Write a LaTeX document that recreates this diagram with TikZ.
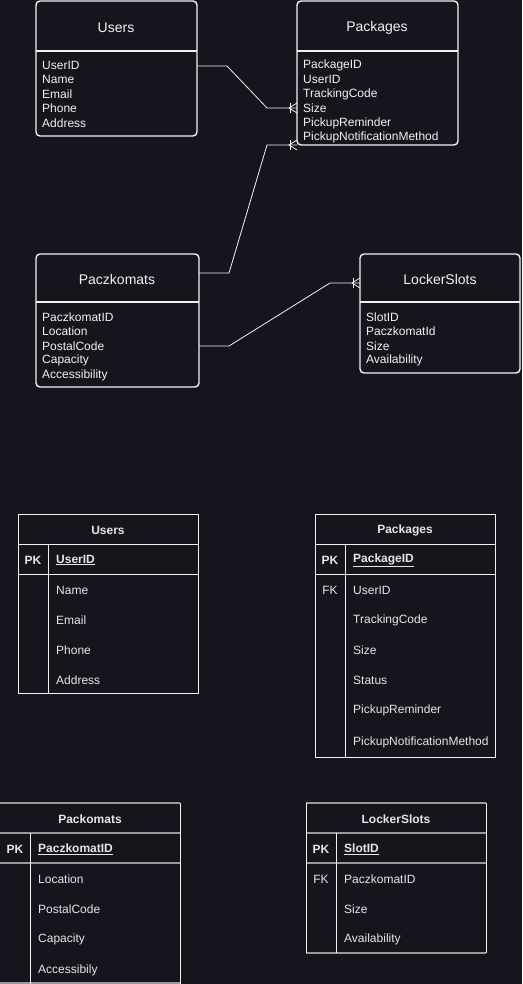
\documentclass[tikz,border=0pt]{standalone}
\usepackage{fontspec}
\setmainfont{Liberation Sans}
\usetikzlibrary{calc}
\definecolor{bg}{HTML}{18141D}
\definecolor{fg}{HTML}{F2F2F2}
\definecolor{tfg}{HTML}{E6E6E6}
\definecolor{gline}{HTML}{9A9A9A}
\tikzset{
  erbox/.style={draw=fg, line width=1.4pt, rounded corners=4pt, fill=bg, inner sep=0pt, outer sep=0pt, anchor=north west},
  ertitle/.style={text=fg, font=\fontsize{14}{16}\selectfont, inner sep=0pt, yshift=-1.5pt},
  erattr/.style={text=fg, font=\fontsize{12}{14}\selectfont, anchor=west, inner sep=0pt, yshift=-1pt},
  conn/.style={draw=fg, line width=0.8pt},
  tbox/.style={draw=fg, line width=1pt, fill=bg, inner sep=0pt, outer sep=0pt, anchor=north west},
  ttitle/.style={text=tfg, font=\bfseries\fontsize{12}{14}\selectfont, inner sep=0pt, yshift=-1pt},
  tkey/.style={text=tfg, font=\bfseries\fontsize{12}{14}\selectfont, inner sep=0pt, yshift=-1pt},
  tattr/.style={text=tfg, font=\fontsize{12}{14}\selectfont, anchor=west, inner sep=0pt, yshift=-1pt},
  tline/.style={draw=fg, line width=1pt},
  gtline/.style={draw=gline, line width=1.4pt},
}
\newcommand{\crowfoot}[1]{%
  \draw[conn] ($(#1)+(-7,-5)$) -- ($(#1)+(-7,5)$);
  \draw[conn] ($(#1)+(0,-5)$) -- ($(#1)+(-8,0)$) -- ($(#1)+(0,5)$);
}
\begin{document}
\begin{tikzpicture}[x=1pt,y=-1pt]
\fill[bg] (0,0) rectangle (522,984);
\useasboundingbox (0,0) rectangle (522,984);

% ---------- top ER boxes ----------
\node[erbox, minimum width=161pt, minimum height=135pt] (users) at (36,1) {};
\draw[erbox] (users.west |- 0,51) -- (users.east |- 0,51);
\node[ertitle] (usersT) at (116,26) {Users};
\foreach \t/\y [count=\i] in {UserID/64,Name/78,Email/93,Phone/107,Address/122}
  \node[erattr] (ua\i) at (42,\y) {\t};

\node[erbox, minimum width=161pt, minimum height=144pt] (packages) at (297,1) {};
\draw[erbox] (packages.west |- 0,51) -- (packages.east |- 0,51);
\node[ertitle] (packagesT) at (377,26) {Packages};
\foreach \t/\y [count=\i] in {PackageID/64,UserID/78,TrackingCode/93,Size/107,PickupReminder/122,PickupNotificationMethod/136}
  \node[erattr] (pa\i) at (303,\y) {\t};

\node[erbox, minimum width=163pt, minimum height=133pt] (paczkomats) at (36,254) {};
\draw[erbox] (paczkomats.west |- 0,302) -- (paczkomats.east |- 0,302);
\node[ertitle] (paczkomatsT) at (117,278) {Paczkomats};
\foreach \t/\y [count=\i] in {PaczkomatID/316,Location/330,PostalCode/345,Capacity/359,Accessibility/374}
  \node[erattr] (za\i) at (42,\y) {\t};

\node[erbox, minimum width=160pt, minimum height=119pt] (lockers) at (360,254) {};
\draw[erbox] (lockers.west |- 0,302) -- (lockers.east |- 0,302);
\node[ertitle] (lockersT) at (440,278) {LockerSlots};
\foreach \t/\y [count=\i] in {SlotID/316,PaczkomatId/330,Size/345,Availability/359}
  \node[erattr] (la\i) at (366,\y) {\t};

% ---------- connectors ----------
\coordinate (c1s) at (users.east |- 0,66);
\coordinate (c1e) at (packages.west |- 0,108);
\draw[conn] (c1s) -- ++(30,0) -- ($(c1e)+(-30,0)$) -- (c1e);
\crowfoot{c1e}

\coordinate (c2s) at (paczkomats.east |- 0,273);
\coordinate (c2e) at (packages.west |- 0,145);
\draw[conn] (c2s) -- ++(30,0) -- ($(c2e)+(-30,0)$) -- (c2e);
\crowfoot{c2e}

\coordinate (c3s) at (paczkomats.east |- 0,346);
\coordinate (c3e) at (lockers.west |- 0,283);
\draw[conn] (c3s) -- ++(30,0) -- ($(c3e)+(-30,0)$) -- (c3e);
\crowfoot{c3e}

% ---------- bottom tables ----------
% Users
\node[tbox, minimum width=180pt, minimum height=179pt] (tusers) at (18,514) {};
\draw[tline] (18,544) -- (198,544);
\draw[tline] (18,574) -- (198,574);
\draw[tline] (48,544) -- (48,693);
\node[ttitle] (tusersT) at (108,529) {Users};
\node[tkey] (tusersPK) at (33,559) {PK};
\node[tattr, font=\bfseries\fontsize{12}{14}\selectfont] (tusersK) at (56,559) {\underline{UserID}};
\foreach \t/\y [count=\i] in {Name/589,Email/619,Phone/649,Address/679}
  \node[tattr] (tu\i) at (56,\y) {\t};

% Packages
\node[tbox, minimum width=180pt, minimum height=243pt] (tpack) at (315,514) {};
\draw[tline] (315,544) -- (495,544);
\draw[tline] (315,574) -- (495,574);
\draw[tline] (345,544) -- (345,757);
\node[ttitle] (tpackT) at (405,529) {Packages};
\node[tkey] (tpackPK) at (330,559) {PK};
\node[tkey, font=\fontsize{12}{14}\selectfont] (tpackFK) at (330,589) {FK};
\node[tattr, font=\bfseries\fontsize{12}{14}\selectfont] (tpackK) at (353,559) {\underline{PackageID}};
\foreach \t/\y [count=\i] in {UserID/589,TrackingCode/619,Size/649,Status/679,PickupReminder/709,PickupNotificationMethod/741}
  \node[tattr] (tp\i) at (353,\y) {\t};

% Packomats
\draw[gtline] (0,803) -- (180,803);
\draw[tline] (180,803) -- (180,984);
\draw[gtline] (0,833) -- (180,833);
\draw[gtline] (0,863) -- (180,863);
\draw[gtline] (0,983) -- (180,983);
\draw[tline] (30,833) -- (30,984);
\node[ttitle] (tpzT) at (90,818) {Packomats};
\node[tkey] (tpzPK) at (15,848) {PK};
\node[tattr, font=\bfseries\fontsize{12}{14}\selectfont] (tpzK) at (38,848) {\underline{PaczkomatID}};
\foreach \t/\y [count=\i] in {Location/878,PostalCode/908,Capacity/938,Accessibily/969}
  \node[tattr] (tz\i) at (38,\y) {\t};

% LockerSlots
\draw[gtline] (306,803) -- (486,803);
\draw[gtline] (306,833) -- (486,833);
\draw[gtline] (306,863) -- (486,863);
\draw[gtline] (306,953) -- (486,953);
\draw[tline] (306,803) -- (306,953);
\draw[tline] (486,803) -- (486,953);
\draw[tline] (336,833) -- (336,953);
\node[ttitle] (tlsT) at (396,818) {LockerSlots};
\node[tkey] (tlsPK) at (321,848) {PK};
\node[tkey, font=\fontsize{12}{14}\selectfont] (tlsFK) at (321,878) {FK};
\node[tattr, font=\bfseries\fontsize{12}{14}\selectfont] (tlsK) at (344,848) {\underline{SlotID}};
\foreach \t/\y [count=\i] in {PaczkomatID/878,Size/908,Availability/938}
  \node[tattr] (tl\i) at (344,\y) {\t};
\end{tikzpicture}
\end{document}
